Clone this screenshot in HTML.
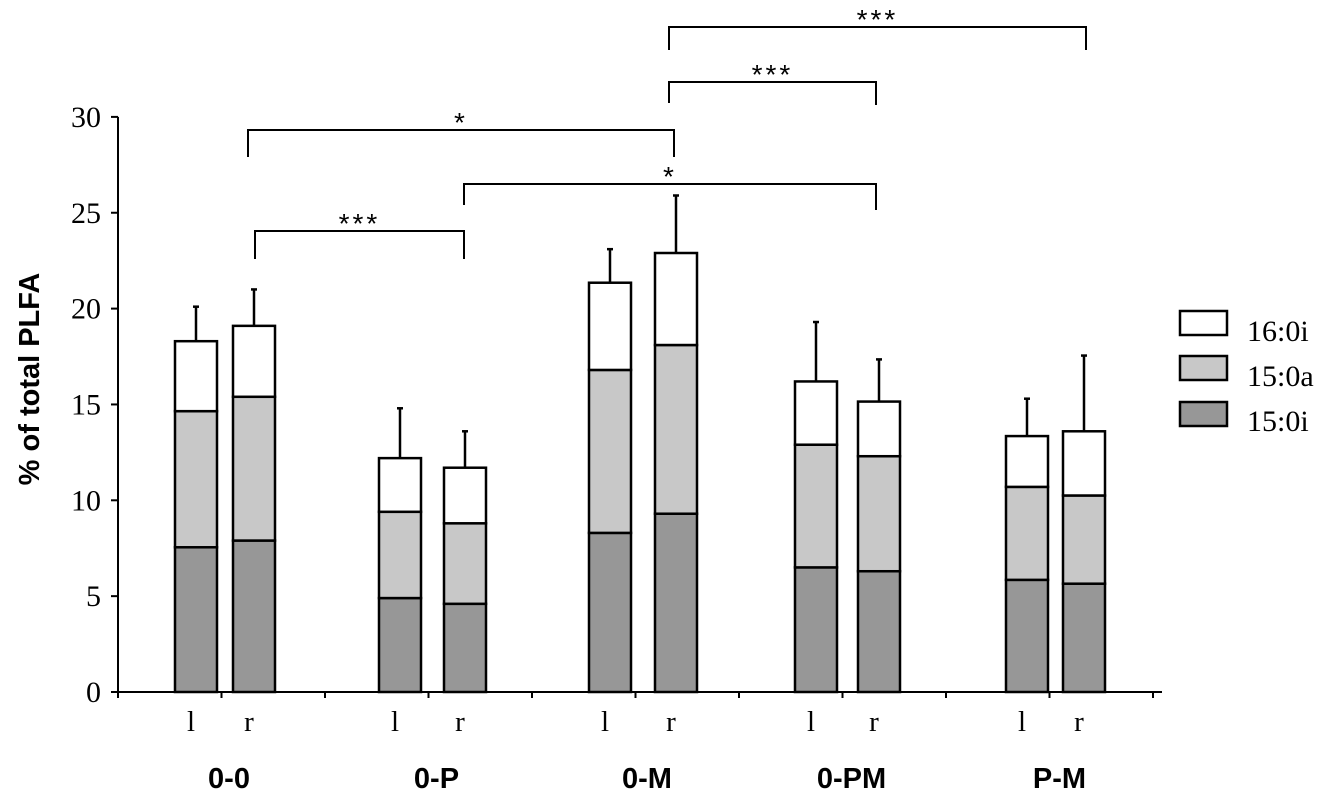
<!DOCTYPE html>
<html><head><meta charset="utf-8"><style>
html,body{margin:0;padding:0;background:#fff;}
svg{display:block;}
</style></head><body>
<svg id="chart" width="1331" height="810" viewBox="0 0 1331 810" xmlns="http://www.w3.org/2000/svg">
<g id="axes"></g>
<g id="bars"></g>
<g id="sig"></g>
<text transform="translate(39,379) rotate(-90)" text-anchor="middle" font-family="Liberation Sans, sans-serif" font-weight="bold" font-size="29">% of total PLFA</text>
<g font-family="Liberation Serif, serif" font-size="30">
 <g><rect x="1180" y="311" width="47" height="24" fill="#fff" stroke="#000" stroke-width="2.5"/><text x="1247" y="341">16:0i</text></g>
 <g><rect x="1180" y="356" width="47" height="24" fill="#c8c8c8" stroke="#000" stroke-width="2.5"/><text x="1247" y="386">15:0a</text></g>
 <g><rect x="1180" y="402" width="47" height="24" fill="#979797" stroke="#000" stroke-width="2.5"/><text x="1247" y="431">15:0i</text></g>
</g>
</svg>
<script>
const groups = ["0-0","0-P","0-M","0-PM","P-M"];
const sides = ["l","r"];
const s150i = [7.55,7.9, 4.9,4.6, 8.3,9.3, 6.5,6.3, 5.85,5.65];
const s150a = [7.1,7.5, 4.5,4.2, 8.5,8.8, 6.4,6.0, 4.85,4.6];
const s160i = [3.65,3.7, 2.8,2.9, 4.55,4.8, 3.3,2.85, 2.65,3.35];
const errs  = [1.8,1.9, 2.6,1.9, 1.75,3.0, 3.1,2.2, 1.95,3.95];
const yTicks = [0,5,10,15,20,25,30];
const barLeft = [175,233, 379,444, 589,655, 795,858, 1006,1063];
const sigs = [
 {x1:248,x2:674,lvl:130,lt:157,rt:157,label:"*"},
 {x1:255,x2:464,lvl:231,lt:259,rt:259,label:"***"},
 {x1:464,x2:876,lvl:184,lt:205,rt:210,label:"*"},
 {x1:669,x2:876,lvl:82,lt:103,rt:105,label:"***"},
 {x1:669,x2:1086,lvl:27,lt:50,rt:50,label:"***"}
];
const NS="http://www.w3.org/2000/svg";
const y0=692, pxPerUnit=19.17;
function yS(v){return y0 - v*pxPerUnit;}
function mk(tag,attrs,parent){const e=document.createElementNS(NS,tag);for(const k in attrs)e.setAttribute(k,attrs[k]);parent.appendChild(e);return e;}
const axes=document.getElementById('axes'), bars=document.getElementById('bars'), sig=document.getElementById('sig');
let e=mk('line',{x1:118,y1:yS(0),x2:118,y2:yS(30),stroke:'#000','stroke-width':2},axes);


e=mk('line',{x1:117,y1:y0,x2:1162,y2:y0,stroke:'#000','stroke-width':2},axes);


yTicks.forEach(t=>{
 let l=mk('line',{x1:111,y1:yS(t),x2:118,y2:yS(t),stroke:'#000','stroke-width':2},axes);
 
 
 let tx=mk('text',{x:101,y:yS(t)+10,'text-anchor':'end','font-family':'Liberation Serif, serif','font-size':30},axes);
 tx.textContent=t;
 
 
});
for(let k=0;k<=10;k++){
 let x=118+103.5*k;
 let l=mk('line',{x1:x,y1:y0,x2:x,y2:y0+6,stroke:'#000','stroke-width':2},axes);
 
 
}
const W=42;
for(let i=0;i<barLeft.length;i++){
 const x=barLeft[i];
 const c1=s150i[i], c2=c1+s150a[i], c3=c2+s160i[i];
 const eb=mk('line',{x1:x+W/2,y1:yS(c3),x2:x+W/2,y2:yS(c3+errs[i]),stroke:'#000','stroke-width':2.5},bars);
 
 
 const cap=mk('line',{x1:x+W/2-3,y1:yS(c3+errs[i]),x2:x+W/2+3,y2:yS(c3+errs[i]),stroke:'#000','stroke-width':2.5},bars);
 
 
 [[0,c1,'#979797','15-0i'],[c1,c2,'#c8c8c8','15-0a'],[c2,c3,'#fff','16-0i']].forEach(s=>{
  const r=mk('rect',{x:x,y:yS(s[1]),width:W,height:yS(s[0])-yS(s[1]),fill:s[2],stroke:'#000','stroke-width':2.5},bars);
  
  
 });
 const t=mk('text',{x:x+W/2-5,y:731,'text-anchor':'middle','font-family':'Liberation Serif, serif','font-size':29},axes);
 t.textContent= sides[i%2];
 
 
}
groups.forEach((g,j)=>{
 const cx=(barLeft[2*j]+barLeft[2*j+1]+W)/2+4;
 const t=mk('text',{x:cx,y:788,'text-anchor':'middle','font-family':'Liberation Sans, sans-serif','font-weight':'bold','font-size':29},axes);
 t.textContent=g;
 
 
});
sigs.forEach(s=>{
 const p=mk('path',{d:`M${s.x1},${s.lt} V${s.lvl} H${s.x2} V${s.rt}`,fill:'none',stroke:'#000','stroke-width':2},sig);
 
 
 const t=mk('text',{x:(s.x1+s.x2)/2,y:s.lvl+2,'text-anchor':'middle','font-family':'Liberation Sans, sans-serif','font-size':28,'letter-spacing':3},sig);
 t.textContent=s.label;
 
 
});
</script>
</body></html>
